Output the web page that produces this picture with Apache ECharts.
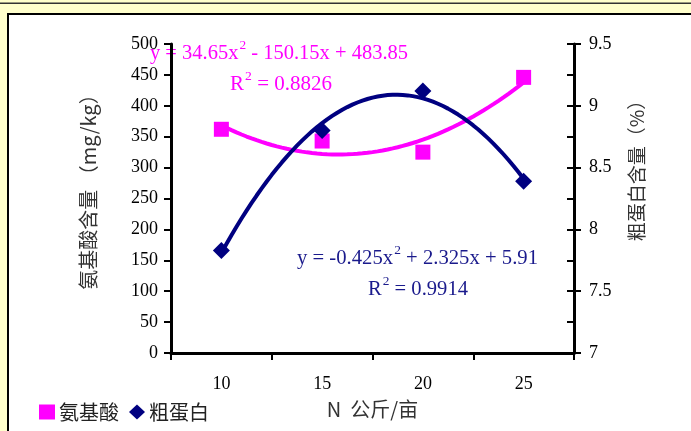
<!DOCTYPE html>
<html><head><meta charset="utf-8">
<script src="https://cdn.jsdelivr.net/npm/echarts@6/dist/echarts.min.js"></script>
<style>html,body{margin:0;padding:0;background:#fff}#c{width:691px;height:431px}</style>
</head><body><div id="c"></div>
<script>
// ---- data ----
var categories = ['10', '15', '20', '25'];
var aminoAcid = [362, 343, 325, 446];       // mg/kg, left axis
var protein = [7.83, 8.80, 9.12, 8.39];       // %, right axis
var aminoTrendCoef = [34.65, -150.15, 483.85];  // a, b, c of displayed trendline
var proteinTrendCoef = [-0.425, 2.325, 5.91];
var leftTicks = [0, 500, 50];
var rightTicks = [7, 9.5, 0.5];

var SERIF = '"Liberation Serif","Times New Roman",serif';
var CJK = '"Noto Sans CJK SC","Liberation Serif",sans-serif';
function trend(coef) {
  var pts = [];
  for (var i = 0; i <= 60; i++) {
    var x = 1 + i * 3 / 60;
    pts.push([x, coef[0] * x * x + coef[1] * x + coef[2]]);
  }
  return pts;
}
var mctx = document.createElement('canvas').getContext('2d');
function measure(t, size) { mctx.font = size + 'px ' + SERIF; return mctx.measureText(t).width; }
// parts: [text, isSuperscript]; builds a text group of given target width, centred vertically at cy
function eq(x, cy, parts, size, color, targetW) {
  var children = [], cx = 0;
  parts.forEach(function (p) {
    var s = p[1] ? Math.round(size * 0.65) : size;
    children.push({type: 'text', x: cx + (p[1] ? 1 : 0), y: p[1] ? -size * 0.4 : 0,
      style: {text: p[0], fontSize: s, fontFamily: SERIF, fill: color, verticalAlign: 'middle', align: 'left'}});
    cx += measure(p[0], s) + (p[1] ? 1 : 0);
  });
  return {type: 'group', x: x, y: cy, scaleX: targetW / cx, children: children};
}
var chart = echarts.init(document.getElementById('c'));
var axisLine = {show: true, lineStyle: {color: '#000', width: 3}};
var tick = {lineStyle: {color: '#000', width: 2}, length: 7};
var PINK = '#FF00FF', NAVY = '#000080', EQNAVY = '#1a1a8c';
chart.setOption({
  animation: false,
  backgroundColor: '#FFFFCC',
  grid: {left: 171, right: 117, top: 44, bottom: 78, outerBoundsMode: 'none', containLabel: false},
  graphic: [
    {type: 'rect', shape: {x: 0, y: 2.5, width: 691, height: 1.5}, style: {fill: '#333'}, z: -10},
    {type: 'rect', shape: {x: 7, y: 13, width: 684, height: 418}, style: {fill: '#000'}, z: -10},
    {type: 'rect', shape: {x: 9, y: 15, width: 682, height: 416}, style: {fill: '#fff'}, z: -10},
    eq(150, 54, [['y = 34.65x', 0], ['2', 1], [' - 150.15x + 483.85', 0]], 20, PINK, 258),
    eq(230, 85, [['R', 0], ['2', 1], [' = 0.8826', 0]], 20, PINK, 102),
    eq(297, 259, [['y = -0.425x', 0], ['2', 1], [' + 2.325x + 5.91', 0]], 20, EQNAVY, 241),
    eq(368, 290, [['R', 0], ['2', 1], [' = 0.9914', 0]], 20, EQNAVY, 100),
    {type: 'text', x: 88, y: 187, rotation: Math.PI / 2, style: {text: '氨基酸含量 （mg/kg）', fontSize: 20, fontFamily: CJK, fill: '#333', align: 'center', verticalAlign: 'middle'}},
    {type: 'text', x: 637, y: 166, rotation: Math.PI / 2, style: {text: '粗蛋白含量（%）', fontSize: 19, fontFamily: CJK, fill: '#333', align: 'center', verticalAlign: 'middle'}}
  ],
  legend: {
    left: 34, top: 397, itemWidth: 16, itemHeight: 15, itemGap: 10,
    textStyle: {fontSize: 20, fontFamily: CJK, color: '#222', padding: [0, 0, 0, -1]},
    data: [{name: '氨基酸', icon: 'rect'}, {name: '粗蛋白', icon: 'diamond'}]
  },
  xAxis: [
    {type: 'category', data: categories, boundaryGap: true, axisLine: axisLine,
      axisTick: Object.assign({show: true, inside: false}, tick),
      axisLabel: {fontSize: 18, fontFamily: SERIF, color: '#000', margin: 22},
      name: 'N  公斤/亩', nameLocation: 'middle', nameGap: 46,
      nameTextStyle: {fontSize: 20, fontFamily: CJK, color: '#333'}},
    {type: 'category', data: categories, boundaryGap: true, axisLine: {show: false},
      axisTick: Object.assign({show: true, inside: true}, tick), axisLabel: {show: false}},
    {type: 'value', min: 0.5, max: 4.5, show: false}
  ],
  yAxis: [
    {type: 'value', min: leftTicks[0], max: leftTicks[1], interval: leftTicks[2], axisLine: axisLine,
      axisTick: Object.assign({show: true, inside: false}, tick), splitLine: {show: false},
      axisLabel: {fontSize: 18, fontFamily: SERIF, color: '#000', margin: 13}},
    {type: 'value', position: 'right', min: rightTicks[0], max: rightTicks[1], interval: rightTicks[2], axisLine: axisLine,
      axisTick: Object.assign({show: true, inside: false}, tick), splitLine: {show: false},
      axisLabel: {fontSize: 18, fontFamily: SERIF, color: '#000', margin: 15}},
    {type: 'value', min: leftTicks[0], max: leftTicks[1], interval: leftTicks[2], axisLine: {show: false},
      axisTick: Object.assign({show: true, inside: true}, tick), splitLine: {show: false}, axisLabel: {show: false}},
    {type: 'value', position: 'right', min: rightTicks[0], max: rightTicks[1], interval: rightTicks[2], axisLine: {show: false},
      axisTick: Object.assign({show: true, inside: true}, tick), splitLine: {show: false}, axisLabel: {show: false}}
  ],
  series: [
    {type: 'line', name: 'amTrend', xAxisIndex: 2, yAxisIndex: 0, data: trend(aminoTrendCoef), showSymbol: false,
      lineStyle: {color: PINK, width: 4}, z: 2},
    {type: 'line', name: 'prTrend', xAxisIndex: 2, yAxisIndex: 1, data: trend(proteinTrendCoef), showSymbol: false,
      lineStyle: {color: NAVY, width: 4}, z: 3},
    {type: 'scatter', name: '氨基酸', xAxisIndex: 0, yAxisIndex: 0, data: aminoAcid, symbol: 'rect', symbolSize: 15,
      itemStyle: {color: PINK, opacity: 1}, z: 5},
    {type: 'scatter', name: '粗蛋白', xAxisIndex: 0, yAxisIndex: 1, data: protein, symbol: 'diamond', symbolSize: 17,
      itemStyle: {color: NAVY, opacity: 1}, z: 5}
  ]
});
</script></body></html>
